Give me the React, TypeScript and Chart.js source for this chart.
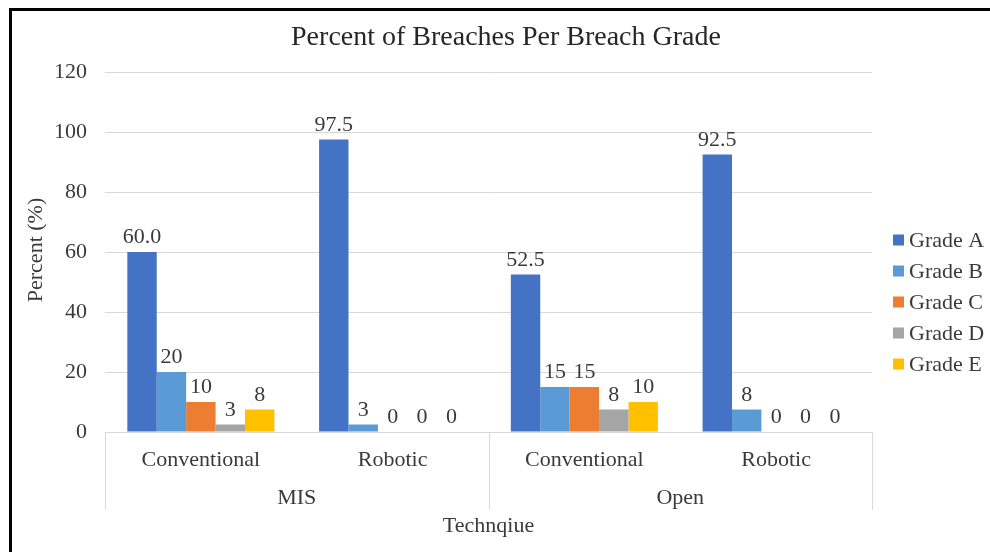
import React, { useEffect, useRef } from "react";
import { Chart, registerables } from "chart.js";

Chart.register(...registerables);

const categories = ["Conventional", "Robotic", "Conventional", "Robotic"];
const groups = ["MIS", "Open"];
const groupSpans = [2, 2];
const seriesNames = ["Grade A", "Grade B", "Grade C", "Grade D", "Grade E"];
const gradeA = [60.0, 97.5, 52.5, 92.5];
const gradeB = [20, 2.5, 15, 7.5];
const gradeC = [10, 0, 15, 0];
const gradeD = [2.5, 0, 7.5, 0];
const gradeE = [7.5, 0, 10, 0];
const labelDecimals = [1, 0, 0, 0, 0];
const seriesColors = ["#4472C4", "#5B9BD5", "#ED7D31", "#A5A5A5", "#FFC000"];
const yTicks = [0, 20, 40, 60, 80, 100, 120];

const titleText = "Percent of Breaches Per Breach Grade";
const yTitle = "Percent (%)";
const xTitle = "Technqiue";

const FONT = "'Liberation Serif', 'Times New Roman', serif";
const TEXT = "#3a3a3a";

const decorPlugin = {
  id: "decor",
  beforeDraw(chart: any) {
    const ctx = chart.ctx;
    ctx.save();
    ctx.fillStyle = "#ffffff";
    ctx.fillRect(0, 0, chart.width, chart.height);
    ctx.fillStyle = "#000000";
    ctx.fillRect(9, 8, chart.width - 9, 3);
    ctx.fillRect(9, 8, 3, chart.height - 8);
    ctx.restore();
  },
  afterDraw(chart: any) {
    const ctx = chart.ctx;
    const xs = chart.scales.x;
    const area = chart.chartArea;
    ctx.save();
    // data labels
    ctx.font = `22px ${FONT}`;
    ctx.fillStyle = TEXT;
    ctx.textAlign = "center";
    ctx.textBaseline = "alphabetic";
    chart.data.datasets.forEach((ds: any, di: number) => {
      const meta = chart.getDatasetMeta(di);
      meta.data.forEach((el: any, i: number) => {
        const v = ds.data[i];
        const txt = labelDecimals[di] > 0 ? v.toFixed(labelDecimals[di]) : String(Math.round(v));
        ctx.fillText(txt, el.x, el.y - 9);
      });
    });
    // group separators and labels
    ctx.strokeStyle = "#d9d9d9";
    ctx.lineWidth = 1;
    const half = (xs.getPixelForValue(1) - xs.getPixelForValue(0)) / 2;
    let idx = 0;
    const bounds: number[] = [xs.getPixelForValue(0) - half];
    groups.forEach((g, gi) => {
      const first = idx;
      const last = idx + groupSpans[gi] - 1;
      idx += groupSpans[gi];
      bounds.push(xs.getPixelForValue(last) + half);
      const cx = (xs.getPixelForValue(first) + xs.getPixelForValue(last)) / 2;
      ctx.textBaseline = "middle";
      ctx.fillText(g, cx, 498);
    });
    bounds.forEach((b) => {
      const px = Math.round(b) + 0.5;
      ctx.beginPath();
      ctx.moveTo(px, area.bottom);
      ctx.lineTo(px, 510);
      ctx.stroke();
    });
    // x axis title
    ctx.textBaseline = "middle";
    ctx.fillText(xTitle, (area.left + area.right) / 2, 526);
    // y title
    ctx.save();
    ctx.translate(36, (area.top + area.bottom) / 2 - 2);
    ctx.rotate(-Math.PI / 2);
    ctx.fillText(yTitle, 0, 0);
    ctx.restore();
    // title
    ctx.font = `28px ${FONT}`;
    ctx.fillStyle = "#262626";
    ctx.fillText(titleText, 506, 38);
    // legend
    ctx.font = `22px ${FONT}`;
    ctx.fillStyle = TEXT;
    ctx.textAlign = "left";
    seriesNames.forEach((n, i) => {
      const cy = 240 + i * 31;
      ctx.fillStyle = seriesColors[i];
      ctx.fillRect(893, cy - 5.5, 11, 11);
      ctx.fillStyle = TEXT;
      ctx.fillText(n, 909, cy + 1);
    });
    ctx.restore();
  },
};

export default function App() {
  const ref = useRef<HTMLCanvasElement | null>(null);
  useEffect(() => {
    if (!ref.current) return;
    const seriesData = [gradeA, gradeB, gradeC, gradeD, gradeE];
    const chart = new Chart(ref.current, {
      type: "bar",
      data: {
        labels: categories,
        datasets: seriesNames.map((n, i) => ({
          label: n,
          data: seriesData[i],
          backgroundColor: seriesColors[i],
          borderWidth: 0,
          barPercentage: 1,
          categoryPercentage: 0.767,
        })),
      },
      options: {
        animation: false,
        responsive: true,
        maintainAspectRatio: false,
        layout: { padding: { left: 0, right: 118, top: 72, bottom: 0 } },
        plugins: {
          legend: { display: false },
          title: { display: false },
          tooltip: { enabled: false },
        },
        scales: {
          x: {
            grid: { display: false, drawTicks: false },
            border: { display: true, color: "#d9d9d9" },
            ticks: {
              font: { family: FONT, size: 22 },
              color: TEXT,
              padding: 15,
              maxRotation: 0,
              autoSkip: false,
            },
            afterFit: (s: any) => {
              s.height = 120;
            },
          },
          y: {
            min: 0,
            max: 120,
            afterBuildTicks: (s: any) => {
              s.ticks = yTicks.map((v) => ({ value: v }));
            },
            grid: { color: "#d9d9d9", drawTicks: false },
            border: { display: false },
            ticks: {
              font: { family: FONT, size: 22 },
              color: TEXT,
              padding: 18,
            },
            afterFit: (s: any) => {
              s.width = 105;
            },
          },
        },
      },
      plugins: [decorPlugin],
    } as any);
    return () => chart.destroy();
  }, []);
  return (
    <div style={{ position: "absolute", left: 0, top: 0, width: 990, height: 552 }}>
      <canvas ref={ref} />
    </div>
  );
}
